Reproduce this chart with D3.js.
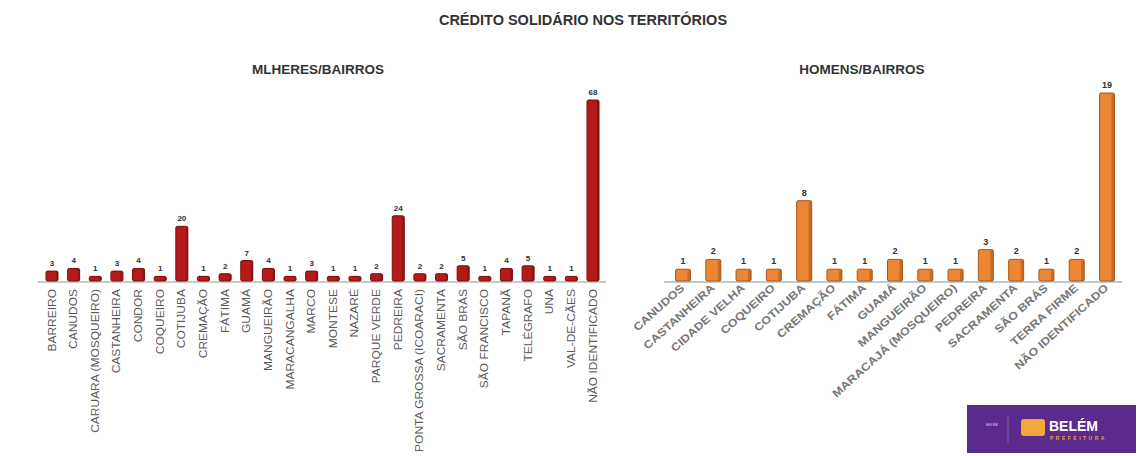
<!DOCTYPE html>
<html><head><meta charset="utf-8">
<script src="https://cdn.jsdelivr.net/npm/d3@7/dist/d3.min.js"></script>
<style>body{margin:0;background:#fff}svg{display:block}</style>
</head><body>
<script>
const title = "CRÉDITO SOLIDÁRIO NOS TERRITÓRIOS";
const womenTitle = "MLHERES/BAIRROS";
const menTitle = "HOMENS/BAIRROS";
const womenCategories = ["BARREIRO","CANUDOS","CARUARA (MOSQUEIRO)","CASTANHEIRA","CONDOR","COQUEIRO","COTIJUBA","CREMAÇÃO","FÁTIMA","GUAMÁ","MANGUEIRÃO","MARACANGALHA","MARCO","MONTESE","NAZARÉ","PARQUE VERDE","PEDREIRA","PONTA GROSSA (ICOARACI)","SACRAMENTA","SÃO BRÁS","SÃO FRANCISCO","TAPANÃ","TELÉGRAFO","UNA","VAL-DE-CÃES","NÃO IDENTIFICADO"];
const womenValues = [3,4,1,3,4,1,20,1,2,7,4,1,3,1,1,2,24,2,2,5,1,4,5,1,1,68];
const menCategories = ["CANUDOS","CASTANHEIRA","CIDADE VELHA","COQUEIRO","COTIJUBA","CREMAÇÃO","FÁTIMA","GUAMÁ","MANGUEIRÃO","MARACAJÁ (MOSQUEIRO)","PEDREIRA","SACRAMENTA","SÃO BRÁS","TERRA FIRME","NÃO IDENTIFICADO"];
const menValues = [1,2,1,1,8,1,1,2,1,1,3,2,1,2,19];

const W = 1138, H = 456;
const svg = d3.select("body").append("svg").attr("width", W).attr("height", H);
const font = "'Liberation Sans', Arial, sans-serif";

svg.append("text").attr("x", 583).attr("y", 25).attr("text-anchor","middle")
  .attr("font-family", font).attr("font-weight","bold").attr("font-size",14.5)
  .attr("fill","#333").text(title);

function chart(opts){
  const {cats, vals, c0, c1, bw, yTop, maxV, base, fill, dark, side, titleX, titleText, rot, lblSize, lblWeight, lblColor, stretch, valSize, axisColor, axisX0, axisX1} = opts;
  const g = svg.append("g");
  g.append("text").attr("x", titleX).attr("y", 74).attr("text-anchor","middle")
    .attr("font-family", font).attr("font-weight","bold").attr("font-size",13.5)
    .attr("fill","#333").text(titleText);
  const x = d3.scalePoint().domain(cats).range([c0, c1]);
  const y = d3.scaleLinear().domain([0, maxV]).range([base, yTop]);
  g.append("line").attr("x1", axisX0).attr("x2", axisX1).attr("y1", base+1).attr("y2", base+1)
    .attr("stroke", axisColor).attr("stroke-width", 2);
  cats.forEach((c,i)=>{
    const v = vals[i];
    const cx = x(c);
    const bx = cx - bw/2, by = y(v) - 2, bh = base - by;
    g.append("rect").attr("x", bx).attr("y", by).attr("width", bw).attr("height", bh)
      .attr("fill", fill).attr("stroke", dark).attr("stroke-width", 1).attr("rx", 1.5);
    g.append("rect").attr("x", bx + bw - side).attr("y", by+1).attr("width", side).attr("height", Math.max(0,bh-1))
      .attr("fill", dark).attr("opacity", 0.55);
    g.append("text").attr("x", cx).attr("y", by - 5).attr("text-anchor","middle")
      .attr("font-family", font).attr("font-weight","bold").attr("font-size", valSize)
      .attr("fill","#2b2f3a").text(v);
    const ly = base + 8;
    g.append("text").attr("transform", `translate(${cx + (rot===-90 ? 3.5 : 2)},${ly}) rotate(${rot}) scale(${stretch},1)`)
      .attr("text-anchor","end").attr("font-family", font).attr("font-size", lblSize)
      .attr("font-weight", lblWeight).attr("fill", lblColor).text(c);
  });
}

chart({cats: womenCategories, vals: womenValues, c0: 52, c1: 593, bw: 12, yTop: 102, maxV: 68, base: 281,
  fill: "#b41a1a", dark: "#7a0d0d", side: 2, titleX: 318, titleText: womenTitle, rot: -90,
  lblSize: 10, lblWeight: "normal", lblColor: "#5a5a5a", stretch: 1.2, valSize: 8,
  axisColor: "#c9c9c9", axisX0: 38, axisX1: 606});

chart({cats: menCategories, vals: menValues, c0: 683, c1: 1107, bw: 15, yTop: 95, maxV: 19, base: 281,
  fill: "#ea8634", dark: "#a9561a", side: 3, titleX: 862, titleText: menTitle, rot: -42,
  lblSize: 11, lblWeight: "bold", lblColor: "#777", stretch: 1.15, valSize: 9,
  axisColor: "#bcc8d4", axisX0: 664, axisX1: 1122});

// logo
const lg = svg.append("g");
lg.append("rect").attr("x", 967).attr("y", 405).attr("width", 169).attr("height", 48).attr("fill", "#5a2a8c");
lg.append("text").attr("x", 992).attr("y", 426).attr("text-anchor","middle").attr("font-family", font)
  .attr("font-size", 3.5).attr("fill","#d8cce8").text("BELÉM");
lg.append("line").attr("x1", 1008).attr("x2", 1008).attr("y1", 415).attr("y2", 443).attr("stroke","#8a6bb0").attr("stroke-width",0.8);
lg.append("rect").attr("x", 1021).attr("y", 419).attr("width", 24).attr("height", 17).attr("fill","#f2a93b").attr("rx",3);
lg.append("text").attr("x", 1049).attr("y", 431).attr("font-family", font).attr("font-weight","bold")
  .attr("font-size", 14).attr("fill","#fff").text("BELÉM");
lg.append("text").attr("x", 1050).attr("y", 440).attr("font-family", font).attr("font-weight","bold")
  .attr("font-size", 5).attr("letter-spacing", 2.5).attr("fill","#e6a640").text("PREFEITURA");
</script>
</body></html>
